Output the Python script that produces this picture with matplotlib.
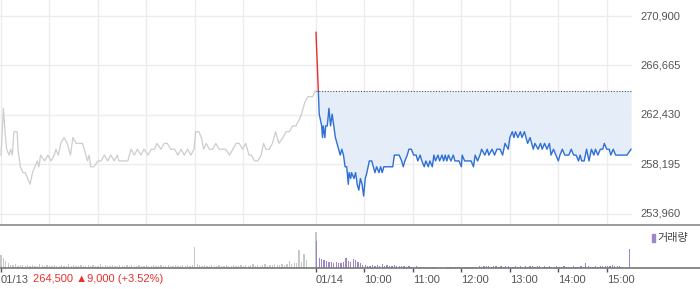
import matplotlib
matplotlib.use("Agg")
import matplotlib.pyplot as plt
from matplotlib.patches import Rectangle
import numpy as np

plt.rcParams['font.family'] = ['Liberation Sans', 'DejaVu Sans']

# minutes counted from 01/13 09:00 (390 minutes per session)
DAY1_MIN = [0, 3, 5, 7, 10, 12, 14, 16, 20, 21, 24, 27, 30, 33, 36, 39, 42, 45, 47, 49,
            54, 58, 62, 66, 68, 71, 74, 78, 82, 86, 89, 93, 97, 101, 103, 107, 109, 111, 115, 120,
            124, 128, 132, 136, 140, 144, 146, 151, 155, 157, 161, 165, 169, 173, 177, 182, 186, 190, 193, 198,
            202, 206, 210, 215, 219, 223, 227, 231, 235, 239, 241, 245, 248, 251, 254, 258, 262, 266, 270, 274,
            278, 283, 287, 291, 295, 299, 303, 307, 310, 314, 318, 322, 325, 328, 332, 336, 340, 344, 349, 353,
            357, 361, 365, 369, 372, 376, 380, 386, 389]
DAY1_PRICE = [259000, 263000, 261000, 259500, 259000, 259500, 259000, 261000, 261000, 259500,
              258000, 257500, 257500, 257000, 256500, 257500, 258000, 258500, 258000, 259000,
              258500, 259000, 258500, 259000, 259500, 259000, 260000, 260500, 260000, 259000,
              260500, 260000, 260000, 260000, 259500, 258500, 259000, 258000, 258000, 258500,
              258500, 259000, 258500, 259000, 258500, 259000, 258500, 258500, 258500, 258500,
              259500, 259000, 259500, 259000, 259500, 259000, 259500, 259500, 260000, 259500,
              260000, 260000, 259500, 259500, 259000, 259500, 259000, 259500, 259000, 259500,
              261000, 261000, 260500, 259500, 260000, 259500, 259500, 260000, 259500, 259500,
              259500, 259000, 259500, 260000, 260000, 259500, 260000, 259000, 259000, 258500,
              258500, 259000, 260000, 259500, 259500, 260000, 261000, 260000, 260500, 261000,
              261000, 261500, 261500, 262000, 262500, 263500, 264000, 264000, 264500]

DAY2_MIN = [390, 394, 397, 398, 399, 401, 402, 404, 406, 408, 410, 412, 414, 416, 418, 420, 422, 424, 426, 428,
            430, 431, 433, 434, 437, 439, 441, 443, 445, 447, 449, 451, 453, 456, 459, 461, 463, 465, 468, 470,
            472, 474, 478, 482, 485, 487, 490, 493, 496, 498, 500, 503, 505, 508, 511, 514, 516, 519, 521, 524,
            526, 529, 531, 534, 536, 538, 541, 543, 546, 548, 550, 552, 554, 557, 560, 562, 567, 570, 571, 574,
            577, 580, 582, 585, 587, 590, 593, 595, 599, 602, 604, 608, 611, 614, 618, 621, 624, 628, 630, 633,
            635, 637, 640, 643, 645, 648, 650, 652, 655, 657, 659, 661, 665, 668, 670, 673, 676, 679, 681, 684,
            687, 690, 692, 695, 698, 703, 706, 709, 712, 715, 717, 719, 722, 725, 728, 731, 734, 736, 739, 742,
            745, 747, 750, 753, 755, 758, 761, 764, 769, 775, 780]
DAY2_PRICE = [269500, 262500, 261500, 260500, 261500, 260500, 261500, 261500, 263000, 261500,
              262500, 261500, 260500, 260000, 259500, 259000, 259500, 259000, 258000, 258000,
              256500, 257500, 257000, 257500, 257000, 257500, 256500, 256000, 257000, 256500,
              255500, 257000, 257500, 258500, 258500, 258000, 257500, 258000, 257500, 258000,
              257500, 258000, 258000, 258000, 258000, 259000, 259000, 259000, 258500, 258000,
              258500, 259000, 259500, 259500, 259000, 259000, 258500, 259000, 258500, 258000,
              258500, 258000, 258500, 258000, 259000, 258500, 259000, 258500, 259000, 258500,
              259000, 258500, 259000, 258500, 259000, 258500, 258500, 258000, 259000, 258500,
              258500, 258500, 258500, 258000, 259000, 258500, 259000, 259500, 259000, 259500,
              259000, 259500, 259000, 259500, 259500, 259000, 260000, 259500, 260500, 261000,
              260500, 261000, 260500, 261000, 260500, 261000, 260500, 260000, 260500, 260000,
              259500, 260000, 259500, 260000, 259500, 260000, 259500, 260000, 259000, 259500,
              259000, 258500, 259000, 259500, 259000, 259000, 259500, 259000, 259000, 258500,
              259000, 258500, 258500, 259500, 258500, 259500, 259000, 259500, 259000, 259500,
              259500, 260000, 259500, 259500, 259000, 259500, 259000, 259000, 259000, 259000, 259500]

PREV_CLOSE = 264500

# volume, one bar every 3 minutes (last day-1 bar = closing auction)
DAY1_VOL = [13, 10, 7, 5, 3, 3, 4, 2, 3, 3, 2, 3, 2, 3, 2, 2, 4, 3, 2, 3,
            2, 2, 3, 2, 2, 3, 2, 2, 4, 2, 3, 2, 2, 3, 2, 2, 3, 2, 3, 2,
            2, 4, 2, 3, 2, 2, 3, 2, 2, 3, 2, 2, 3, 2, 3, 2, 2, 3, 2, 2,
            3, 2, 2, 3, 2, 2, 3, 2, 2, 3, 2, 2, 3, 2, 2, 3, 2, 3, 2, 3,
            21, 4, 3, 2, 3, 2, 2, 3, 2, 2, 3, 2, 2, 3, 2, 2, 3, 2, 2, 3,
            2, 3, 2, 3, 4, 2, 3, 2, 3, 4, 2, 3, 3, 4, 3, 3, 4, 3, 4, 7,
            4, 5, 5, 18, 6, 14, 8, 0, 0, 0, 36]
DAY2_VOL = [27, 10, 9, 8, 7, 6, 6, 5, 6, 5, 5, 6, 10, 7, 6, 9, 8, 6, 5, 3,
            3, 2, 2, 3, 2, 3, 2, 4, 2, 3, 2, 2, 3, 2, 2, 2, 2, 1, 2, 1,
            1, 2, 1, 1, 1, 1, 1, 1, 1, 1, 0, 0, 0, 0, 1, 1, 1, 1, 1, 1,
            1, 1, 1, 1, 1, 1, 1, 2, 1, 2, 2, 2, 1, 2, 2, 1, 2, 1, 2, 2,
            1, 1, 2, 1, 2, 1, 2, 1, 2, 2, 1, 2, 2, 1, 2, 1, 2, 1, 1, 2,
            1, 1, 2, 1, 1, 1, 2, 1, 1, 2, 1, 5, 2, 1, 1, 2, 1, 2, 2, 2,
            2, 2, 3, 2, 2, 2, 1, 0, 0, 19]

Y_TICKS = [270900, 266665, 262430, 258195, 253960]
Y_LABELS = ["270,900", "266,665", "262,430", "258,195", "253,960"]
DAY1_GRID = [60, 120, 180, 240, 300]
X_TICKS = [0, 390, 450, 510, 570, 630, 690, 750]
X_LABELS = ["01/13", "01/14", "10:00", "11:00", "12:00", "13:00", "14:00", "15:00"]

W, H = 700, 289
PX_PER_MIN = 0.8077
XLIM = (-1 / PX_PER_MIN, (W - 1) / PX_PER_MIN)

fig = plt.figure(figsize=(W / 100, H / 100), dpi=100)
ax = fig.add_axes([0, 64 / H, 1, 225 / H])
axv = fig.add_axes([0, 21 / H, 1, 42 / H])

# price panel
ax.set_xlim(XLIM)
ax.set_ylim(253018, 272269)
for y in Y_TICKS:
    ax.plot([XLIM[0], 780], [y, y], color="#ececec", lw=1, zorder=0)
for x in DAY1_GRID + X_TICKS:
    ax.axvline(x, color="#ececec", lw=1, zorder=0)

ax.plot(DAY1_MIN, DAY1_PRICE, color="#cdcdd1", lw=0.9, zorder=2)

d2m = np.array(DAY2_MIN)
d2p = np.array(DAY2_PRICE)
ax.fill_between(d2m, d2p, PREV_CLOSE, where=d2p <= PREV_CLOSE, interpolate=True,
                color="#e5edf9", lw=0, zorder=1)
ax.plot([390, 780], [PREV_CLOSE, PREV_CLOSE], color="#555555", lw=0.8,
        ls=(0, (1, 1.5)), zorder=3)

up = Rectangle((380, PREV_CLOSE), 410, 20000, transform=ax.transData)
dn = Rectangle((380, PREV_CLOSE - 20000), 410, 20000, transform=ax.transData)
l1, = ax.plot(d2m, d2p, color="#ee2a2a", lw=1.0, zorder=4)
l1.set_clip_path(up)
l2, = ax.plot(d2m, d2p, color="#2f6fd6", lw=1.0, zorder=4)
l2.set_clip_path(dn)

for y, lab in zip(Y_TICKS, Y_LABELS):
    ax.text(640 / W, y, lab, transform=ax.get_yaxis_transform(), fontsize=8,
            color="#555555", va="center", ha="left")

ax.set_xticks([])
ax.set_yticks([])
for s in ["top", "left", "right"]:
    ax.spines[s].set_visible(False)
ax.spines["bottom"].set_color("#8a8a8a")
ax.spines["bottom"].set_linewidth(1.2)

# volume panel
v1x = np.arange(len(DAY1_VOL)) * 3
v2x = 391 + np.arange(len(DAY2_VOL)) * 3
axv.bar(v1x, DAY1_VOL, width=1.6, color="#c8c8c8", lw=0)
axv.bar(v2x, DAY2_VOL, width=1.6, color="#9b87c9", lw=0)
axv.set_xlim(XLIM)
axv.set_ylim(0, 42)
axv.set_yticks([])
axv.set_xticks(X_TICKS)
axv.set_xticklabels(X_LABELS, ha="left", fontsize=8, color="#555555")
axv.tick_params(axis="x", length=3, width=1, color="#555555", pad=2)
for s in ["top", "left", "right"]:
    axv.spines[s].set_visible(False)
axv.spines["bottom"].set_color("#777777")
axv.spines["bottom"].set_linewidth(1.2)
axv.patch.set_alpha(0)

fig.text(33 / W, 1 - 279 / H, "264,500 \u25b29,000 (+3.52%)", fontsize=8,
         color="#e8312c", va="center", ha="left")

fig.patches.append(Rectangle((652 / W, 1 - 242 / H), 3 / W, 8 / H,
                             transform=fig.transFigure, color="#9b87c9"))
fig.text(657 / W, 1 - 238 / H, "거래량", fontsize=8, color="#444444",
         va="center", ha="left", family=["Noto Sans CJK KR", "DejaVu Sans"])

fig.savefig("out.png", dpi=100)
